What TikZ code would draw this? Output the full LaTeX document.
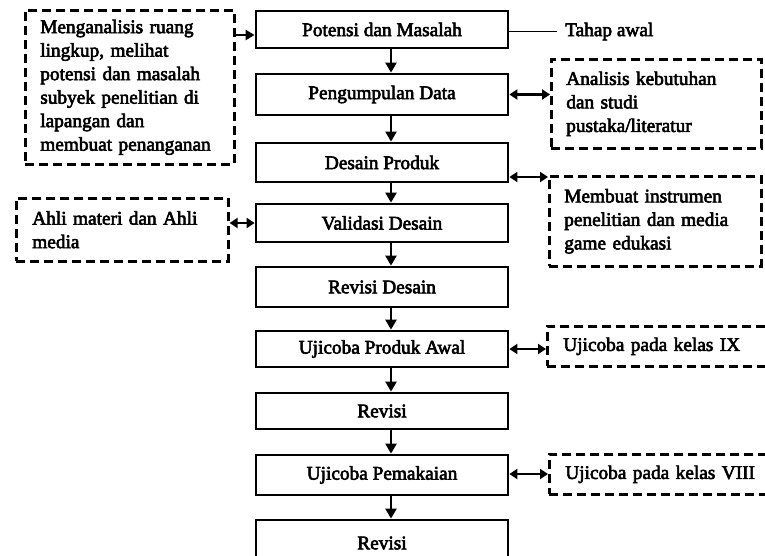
\documentclass[tikz,border=0pt]{standalone}
\usepackage{fontspec}
\setmainfont{Liberation Serif}[FakeBold=3]
\usetikzlibrary{arrows.meta}
\tikzset{
  mainbox/.style={draw, line width=2.8pt, minimum width=252pt, inner sep=0pt, font=\fontsize{19.3}{23.5}\selectfont},
  dbox/.style={draw, line width=2.6pt, dash pattern=on 9pt off 5pt, inner xsep=15pt, inner ysep=0pt, align=left, anchor=north west, font=\fontsize{19.3}{23.5}\selectfont},
  flow/.style={line width=2.4pt, -{Triangle[length=10pt,width=11pt]}},
  both/.style={line width=2.4pt, {Triangle[length=8pt,width=10pt]}-{Triangle[length=8pt,width=10pt]}},
  plain/.style={line width=1.6pt},
  lbl/.style={font=\fontsize{19.3}{23.5}\selectfont, inner sep=0pt, anchor=west}
}
\begin{document}
\begin{tikzpicture}[x=1pt,y=-1pt]
\useasboundingbox (0,0) rectangle (765,555);
\clip (0,0) rectangle (765,555);
\fill[white] (0,0) rectangle (765,555);
% main boxes
\node[mainbox, minimum height=37pt] (b1) at (382,29.5) {Potensi dan Masalah};
\node[mainbox, minimum height=41pt] (b2) at (382,94.5) {Pengumpulan Data};
\node[mainbox, minimum height=39pt] (b3) at (382,162.5) {Desain Produk};
\node[mainbox, minimum height=38pt] (b4) at (382,223) {Validasi Desain};
\node[mainbox, minimum height=40pt] (b5) at (382,287) {Revisi Desain};
\node[mainbox, minimum height=36pt] (b6) at (382,349) {Ujicoba Produk Awal};
\node[mainbox, minimum height=36pt] (b7) at (382,411) {Revisi};
\node[mainbox, minimum height=40pt] (b8) at (382,475) {Ujicoba Pemakaian};
\node[mainbox, minimum height=46pt] (b9) at (382,543) {Revisi};
% flow arrows
\coordinate (ax) at (391,0);
\draw[flow] (b1.south -| ax) -- (b2.north -| ax);
\draw[flow] (b2.south -| ax) -- (b3.north -| ax);
\draw[flow] (b3.south -| ax) -- (b4.north -| ax);
\draw[flow] (b4.south -| ax) -- (b5.north -| ax);
\draw[flow] (b5.south -| ax) -- (b6.north -| ax);
\draw[flow] (b6.south -| ax) -- (b7.north -| ax);
\draw[flow] (b7.south -| ax) -- (b8.north -| ax);
\draw[flow] (b8.south -| ax) -- (b9.north -| ax);
% side boxes
\node[dbox, text width=179pt, minimum height=154pt] (l1) at (24,9)
  {Menganalisis ruang\\lingkup, melihat\\potensi dan masalah\\subyek penelitian di\\lapangan dan\\membuat penanganan};
\node[dbox, text width=180pt, minimum height=89pt] (r1) at (550,58)
  {Analisis kebutuhan\\dan studi\\pustaka/literatur};
\node[dbox, text width=182pt, minimum height=90pt] (r2) at (548,175)
  {Membuat instrumen\\penelitian dan media\\game edukasi};
\node[dbox, text width=180pt, minimum height=63pt, inner xsep=16pt] (l2) at (15,197)
  {Ahli materi dan Ahli\\media};
\node[dbox, text width=260pt, minimum height=40pt, inner xsep=16pt] (r3) at (546,325)
  {Ujicoba pada kelas IX};
\node[dbox, text width=260pt, minimum height=40pt, inner xsep=16pt] (r4) at (548,453)
  {Ujicoba pada kelas VIII};
% side connectors
\coordinate (y1) at (0,35);
\draw[flow, -{Triangle[length=9pt,width=10pt]}] (l1.east |- y1) -- (b1.west |- y1);
\node[lbl] (t1) at (565,31.5) {Tahap awal};
\draw[plain] (b1.east |- t1) -- (557,31.5);
\draw[both] (b2.east) -- (r1.west |- b2.east);
\coordinate (y2) at (0,177);
\draw[both] (b3.east |- y2) -- (r2.west |- y2);
\draw[both] (l2.east |- b4.west) -- (b4.west);
\coordinate (y3) at (0,349);
\draw[both] (b6.east |- y3) -- (r3.west |- y3);
\coordinate (y4) at (0,474);
\draw[both] (b8.east |- y4) -- (r4.west |- y4);
\end{tikzpicture}
\end{document}
